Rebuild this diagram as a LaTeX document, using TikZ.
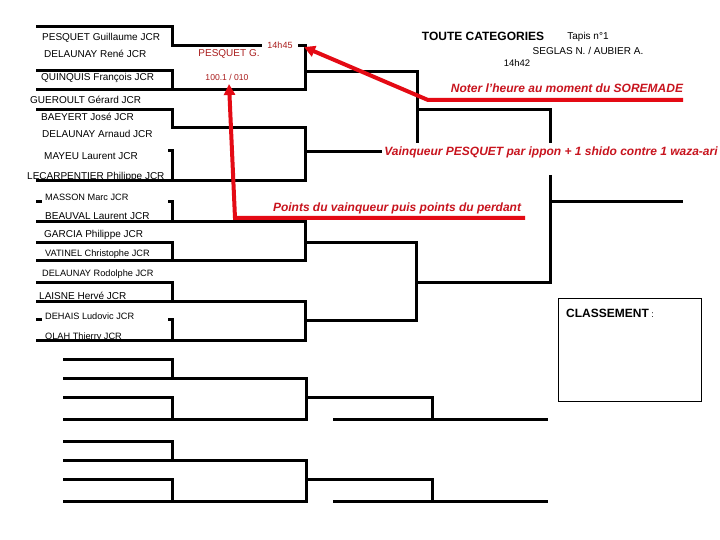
\documentclass[tikz,border=0pt]{standalone}
\usepackage{fontspec}
\setmainfont{Liberation Sans}
\usetikzlibrary{arrows.meta}
\definecolor{redline}{RGB}{228,10,20}
\definecolor{redtext}{RGB}{200,20,30}
\definecolor{darkred}{RGB}{170,30,30}
\tikzset{
  brk/.style={line width=3pt, line join=miter},
  nm/.style={anchor=base west, yshift=-4pt, inner sep=0pt, font=\fontsize{10}{12}\selectfont},
  nms/.style={anchor=base west, yshift=-3.5pt, inner sep=0pt, font=\fontsize{9.2}{11}\selectfont},
  note/.style={inner sep=0pt, text=redtext, font=\fontsize{12}{14}\selectfont\bfseries\itshape},
  small/.style={inner sep=0pt, font=\fontsize{10}{12}\selectfont},
  redarr/.style={line width=4pt, draw=redline, line join=miter, -{Triangle[length=11pt,width=11pt]}},
  redund/.style={line width=4pt, draw=redline}
}
\begin{document}
\begin{tikzpicture}[x=1pt,y=-1pt]
\useasboundingbox (0,0) rectangle (720,540);
\fill[white] (0,0) rectangle (720,540);

% ---- main bracket, round 1 and 2
\draw[brk] (36,27) -- (172,27) -- (172,46) -- (262,46);
\draw[brk] (298,46) -- (305,46) -- (305,90) -- (36,90);
\draw[brk] (36,71) -- (172,71) -- (172,90);
\draw[brk] (305,72) -- (417,72) -- (417,143);

\draw[brk] (36,110) -- (172,110) -- (172,128) -- (305,128) -- (305,181) -- (36,181);
\draw[brk] (168,151) -- (172,151) -- (172,181);
\draw[brk] (305,152) -- (382,152);

\draw[brk] (36,202) -- (42,202);
\draw[brk] (168,202) -- (172,202) -- (172,222);
\draw[brk] (36,222) -- (305,222) -- (305,260) -- (36,260);
\draw[brk] (36,242) -- (172,242) -- (172,260);
\draw[brk] (305,242) -- (416,242) -- (416,320) -- (305,320);

\draw[brk] (36,282) -- (172,282) -- (172,301);
\draw[brk] (36,301) -- (305,301) -- (305,340) -- (36,340);
\draw[brk] (36,319) -- (42,319);
\draw[brk] (168,319) -- (172,319) -- (172,340);

% ---- round 3 and final
\draw[brk] (417,110) -- (550,110) -- (550,143);
\draw[brk] (550,175) -- (550,282) -- (416,282);
\draw[brk] (550,202) -- (683,202);

% ---- repechage brackets
\foreach \o in {0,82}{
  \draw[brk] (63,359+\o) -- (172,359+\o) -- (172,378+\o);
  \draw[brk] (63,378+\o) -- (306,378+\o) -- (306,419+\o) -- (63,419+\o);
  \draw[brk] (63,397+\o) -- (172,397+\o) -- (172,419+\o);
  \draw[brk] (306,397+\o) -- (432,397+\o) -- (432,419+\o);
  \draw[brk] (333,419+\o) -- (548,419+\o);
}

% ---- classement box
\draw[line width=1pt] (558,298) rectangle (701,401);
\node[anchor=west, inner sep=0pt] (cls) at (566,313)
  {\fontsize{12}{14}\selectfont\bfseries CLASSEMENT\mdseries\fontsize{9}{11}\selectfont\ :};

% ---- names
\node[nm] (n1) at (42,37) {PESQUET Guillaume JCR};
\node[nm] (n2) at (44,54) {DELAUNAY René JCR};
\node[nm] (n3) at (41,77) {QUINQUIS François JCR};
\node[nm] (n4) at (30,100) {GUEROULT Gérard JCR};
\node[nm] (n5) at (41,117) {BAEYERT José JCR};
\node[nm] (n6) at (42,134) {DELAUNAY Arnaud JCR};
\node[nm] (n7) at (44,156) {MAYEU Laurent  JCR};
\node[nm] (n8) at (27,176) {LECARPENTIER Philippe JCR};
\node[nms] (n9) at (45,197) {MASSON Marc JCR};
\node[nm] (n10) at (45,216) {BEAUVAL Laurent  JCR};
\node[nm] (n11) at (44,233) {GARCIA Philippe JCR};
\node[nms] (n12) at (45,253) {VATINEL Christophe JCR};
\node[nms] (n13) at (42,273) {DELAUNAY Rodolphe JCR};
\node[nm] (n14) at (39,295) {LAISNE Hervé JCR};
\node[nms] (n15) at (45,316) {DEHAIS Ludovic JCR};
\node[nms] (n16) at (45,336) {OLAH Thierry JCR};

% ---- header
\node[inner sep=0pt, font=\fontsize{12}{14}\selectfont\bfseries] (title) at (483,36) {TOUTE CATEGORIES};
\node[small] (tapis) at (588,37) {Tapis n°1};
\node[small] (arb) at (588,51) {SEGLAS N. / AUBIER A.};
\node[small, font=\fontsize{9.5}{11}\selectfont] (h42) at (517,63) {14h42};

% ---- match annotations
\node[inner sep=0pt, text=darkred, font=\fontsize{9}{11}\selectfont] (h45) at (280,45) {14h45};
\node[inner sep=0pt, text=darkred, font=\fontsize{10}{12}\selectfont] (win) at (229,54) {PESQUET G.};
\node[inner sep=0pt, text=darkred, font=\fontsize{8.6}{10}\selectfont] (pts) at (227,77) {100.1 / 010};

% ---- red notes
\node[note] (noteA) at (567,88) {Noter l'heure au moment du SOREMADE};
\node[note] (noteB) at (551,152) {Vainqueur PESQUET par ippon + 1 shido contre 1 waza-ari};
\node[note] (noteC) at (397,208) {Points du vainqueur puis points du perdant};

\draw[redarr] (683,100) -- (428,100) -- (304,47);
\draw[redarr] (525,218) -- (235,218) -- (229,84);
\end{tikzpicture}
\end{document}
